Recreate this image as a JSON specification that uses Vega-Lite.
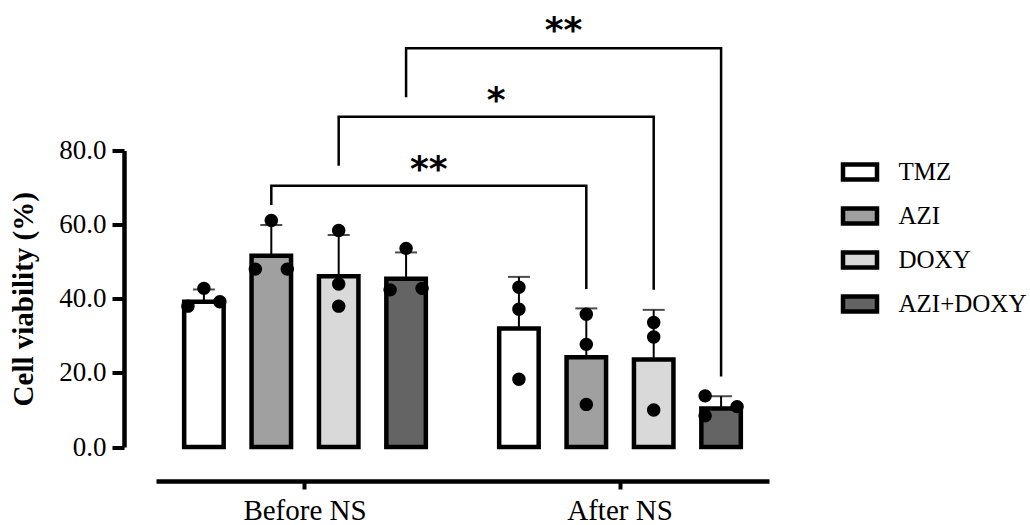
{
  "$schema": "https://vega.github.io/schema/vega-lite/v6.json",
  "autosize": {"type": "none"},
  "width": 613,
  "height": 296.5,
  "padding": {"left": 156, "top": 150.5, "right": 261, "bottom": 78},
  "background": "white",
  "config": {"font": "Liberation Serif", "view": {"stroke": null}},
  "datasets": {
    "summary": [
      {"group": "Before NS", "treatment": "TMZ", "mean": 39.2, "upper": 42.5},
      {"group": "Before NS", "treatment": "AZI", "mean": 51.6, "upper": 59.9},
      {"group": "Before NS", "treatment": "DOXY", "mean": 46.1, "upper": 57.2},
      {"group": "Before NS", "treatment": "AZI+DOXY", "mean": 45.4, "upper": 52.5},
      {"group": "After NS", "treatment": "TMZ", "mean": 32.0, "upper": 45.9},
      {"group": "After NS", "treatment": "AZI", "mean": 24.2, "upper": 37.4},
      {"group": "After NS", "treatment": "DOXY", "mean": 23.6, "upper": 37.0},
      {"group": "After NS", "treatment": "AZI+DOXY", "mean": 10.4, "upper": 13.7}
    ],
    "points": [
      {"group": "Before NS", "treatment": "TMZ", "value": 38.0, "side": "L"},
      {"group": "Before NS", "treatment": "TMZ", "value": 39.2, "side": "R"},
      {"group": "Before NS", "treatment": "TMZ", "value": 42.8, "side": "C"},
      {"group": "Before NS", "treatment": "AZI", "value": 48.0, "side": "L"},
      {"group": "Before NS", "treatment": "AZI", "value": 48.0, "side": "R"},
      {"group": "Before NS", "treatment": "AZI", "value": 61.1, "side": "C"},
      {"group": "Before NS", "treatment": "DOXY", "value": 58.4, "side": "C"},
      {"group": "Before NS", "treatment": "DOXY", "value": 44.0, "side": "C"},
      {"group": "Before NS", "treatment": "DOXY", "value": 38.0, "side": "C"},
      {"group": "Before NS", "treatment": "AZI+DOXY", "value": 42.4, "side": "L"},
      {"group": "Before NS", "treatment": "AZI+DOXY", "value": 42.8, "side": "R"},
      {"group": "Before NS", "treatment": "AZI+DOXY", "value": 53.6, "side": "C"},
      {"group": "After NS", "treatment": "TMZ", "value": 43.1, "side": "C"},
      {"group": "After NS", "treatment": "TMZ", "value": 37.2, "side": "C"},
      {"group": "After NS", "treatment": "TMZ", "value": 18.3, "side": "C"},
      {"group": "After NS", "treatment": "AZI", "value": 35.8, "side": "C"},
      {"group": "After NS", "treatment": "AZI", "value": 27.7, "side": "C"},
      {"group": "After NS", "treatment": "AZI", "value": 11.5, "side": "C"},
      {"group": "After NS", "treatment": "DOXY", "value": 33.6, "side": "C"},
      {"group": "After NS", "treatment": "DOXY", "value": 29.7, "side": "C"},
      {"group": "After NS", "treatment": "DOXY", "value": 10.0, "side": "C"},
      {"group": "After NS", "treatment": "AZI+DOXY", "value": 13.8, "side": "L"},
      {"group": "After NS", "treatment": "AZI+DOXY", "value": 10.9, "side": "R"},
      {"group": "After NS", "treatment": "AZI+DOXY", "value": 8.4, "side": "L"}
    ],
    "brackets": [
      {"bracket": "A", "ord": 1, "group": "Before NS", "treatment": "AZI", "value": 65.3},
      {"bracket": "A", "ord": 2, "group": "Before NS", "treatment": "AZI", "value": 70.5},
      {"bracket": "A", "ord": 3, "group": "After NS", "treatment": "AZI", "value": 70.5},
      {"bracket": "A", "ord": 4, "group": "After NS", "treatment": "AZI", "value": 42.6},
      {"bracket": "B", "ord": 1, "group": "Before NS", "treatment": "DOXY", "value": 75.9},
      {"bracket": "B", "ord": 2, "group": "Before NS", "treatment": "DOXY", "value": 89.1},
      {"bracket": "B", "ord": 3, "group": "After NS", "treatment": "DOXY", "value": 89.1},
      {"bracket": "B", "ord": 4, "group": "After NS", "treatment": "DOXY", "value": 42.4},
      {"bracket": "C", "ord": 1, "group": "Before NS", "treatment": "AZI+DOXY", "value": 94.4},
      {"bracket": "C", "ord": 2, "group": "Before NS", "treatment": "AZI+DOXY", "value": 107.6},
      {"bracket": "C", "ord": 3, "group": "After NS", "treatment": "AZI+DOXY", "value": 107.6},
      {"bracket": "C", "ord": 4, "group": "After NS", "treatment": "AZI+DOXY", "value": 19.0}
    ],
    "stars": [
      {"group": "Before NS", "treatment": "AZI", "value": 76.6, "label": "**"},
      {"group": "Before NS", "treatment": "DOXY", "value": 95.3, "label": "*"},
      {"group": "Before NS", "treatment": "AZI+DOXY", "value": 114.1, "label": "**"}
    ]
  },
  "encoding": {
    "x": {
      "field": "group",
      "type": "nominal",
      "scale": {"domain": ["Before NS", "After NS"], "paddingInner": 0.054, "paddingOuter": 0},
      "axis": {
        "title": null,
        "labelAngle": 0,
        "labelFont": "Liberation Serif",
        "labelFontSize": 29,
        "labelColor": "black",
        "labelPadding": 7,
        "tickSize": 8,
        "tickWidth": 4,
        "tickColor": "black",
        "domainColor": "black",
        "domainWidth": 4.5,
        "offset": 34,
        "grid": false
      }
    },
    "xOffset": {
      "field": "treatment",
      "type": "nominal",
      "scale": {"domain": ["TMZ", "AZI", "DOXY", "AZI+DOXY"], "paddingInner": 0.414, "paddingOuter": 0.418}
    }
  },
  "layer": [
    {
      "data": {"name": "summary"},
      "mark": {"type": "rule", "color": "black", "strokeWidth": 2},
      "encoding": {
        "y": {
          "field": "mean",
          "type": "quantitative",
          "scale": {"domain": [0, 80], "nice": false, "zero": false},
          "axis": {
            "title": "Cell viability (%)",
            "titleFont": "Liberation Serif",
            "titleFontSize": 29,
            "titleFontWeight": "bold",
            "titleColor": "black",
            "titlePadding": 20,
            "values": [0, 10, 20, 30, 40, 50, 60, 70, 80],
            "labelExpr": "datum.value % 20 === 0 ? format(datum.value, '.1f') : ''",
            "labelFont": "Liberation Serif",
            "labelFontSize": 27,
            "labelColor": "black",
            "labelPadding": 6,
            "labelFlush": false,
            "labelOverlap": false,
            "offset": 32,
            "domainColor": "black",
            "domainWidth": 4.5,
            "tickColor": "black",
            "tickWidth": 4,
            "tickSize": {"condition": {"test": "datum.value % 20 === 0", "value": 12}, "value": 6},
            "grid": false
          }
        },
        "y2": {"field": "upper"}
      }
    },
    {
      "data": {"name": "summary"},
      "mark": {"type": "tick", "orient": "horizontal", "color": "black", "size": 22, "thickness": 2},
      "encoding": {"y": {"field": "upper", "type": "quantitative"}}
    },
    {
      "data": {"name": "summary"},
      "mark": {"type": "bar", "stroke": "black", "strokeWidth": 4.5},
      "encoding": {
        "y": {"field": "mean", "type": "quantitative"},
        "fill": {
          "field": "treatment",
          "type": "nominal",
          "scale": {"domain": ["TMZ", "AZI", "DOXY", "AZI+DOXY"], "range": ["#ffffff", "#a0a0a0", "#d9d9d9", "#646464"]},
          "legend": {
            "orient": "none",
            "legendX": 684.5,
            "legendY": 2,
            "title": null,
            "padding": 0,
            "symbolType": "M-1,-0.44H1V0.44H-1Z",
            "symbolSize": 1156,
            "symbolStrokeColor": "black",
            "symbolStrokeWidth": 4.5,
            "symbolOpacity": 1,
            "labelFont": "Liberation Serif",
            "labelFontSize": 25,
            "labelColor": "black",
            "labelOffset": 19,
            "rowPadding": 8,
            "labelLimit": 300
          }
        }
      }
    },
    {
      "data": {"name": "points"},
      "transform": [{"filter": "datum.side === 'C'"}],
      "mark": {"type": "point", "filled": true, "color": "black", "opacity": 1, "size": 180, "shape": "M-1,0a1,1 0 1,0 2,0a1,1 0 1,0 -2,0Z"},
      "encoding": {"y": {"field": "value", "type": "quantitative"}}
    },
    {
      "data": {"name": "points"},
      "transform": [{"filter": "datum.side === 'L'"}],
      "mark": {"type": "point", "filled": true, "color": "black", "opacity": 1, "size": 180, "shape": "M-3.38,0a1,1 0 1,0 2,0a1,1 0 1,0 -2,0Z"},
      "encoding": {"y": {"field": "value", "type": "quantitative"}}
    },
    {
      "data": {"name": "points"},
      "transform": [{"filter": "datum.side === 'R'"}],
      "mark": {"type": "point", "filled": true, "color": "black", "opacity": 1, "size": 180, "shape": "M1.38,0a1,1 0 1,0 2,0a1,1 0 1,0 -2,0Z"},
      "encoding": {"y": {"field": "value", "type": "quantitative"}}
    },
    {
      "data": {"name": "brackets"},
      "mark": {"type": "line", "color": "black", "strokeWidth": 2.5, "strokeJoin": "miter", "strokeCap": "butt"},
      "encoding": {
        "y": {"field": "value", "type": "quantitative"},
        "detail": {"field": "bracket"},
        "order": {"field": "ord", "type": "quantitative"}
      }
    },
    {
      "data": {"name": "stars"},
      "mark": {"type": "text", "font": "DejaVu Sans", "fontWeight": "bold", "fontSize": 36, "color": "black", "dx": 157.5, "dy": 18, "baseline": "alphabetic", "align": "center"},
      "encoding": {
        "y": {"field": "value", "type": "quantitative"},
        "text": {"field": "label"}
      }
    }
  ]
}
